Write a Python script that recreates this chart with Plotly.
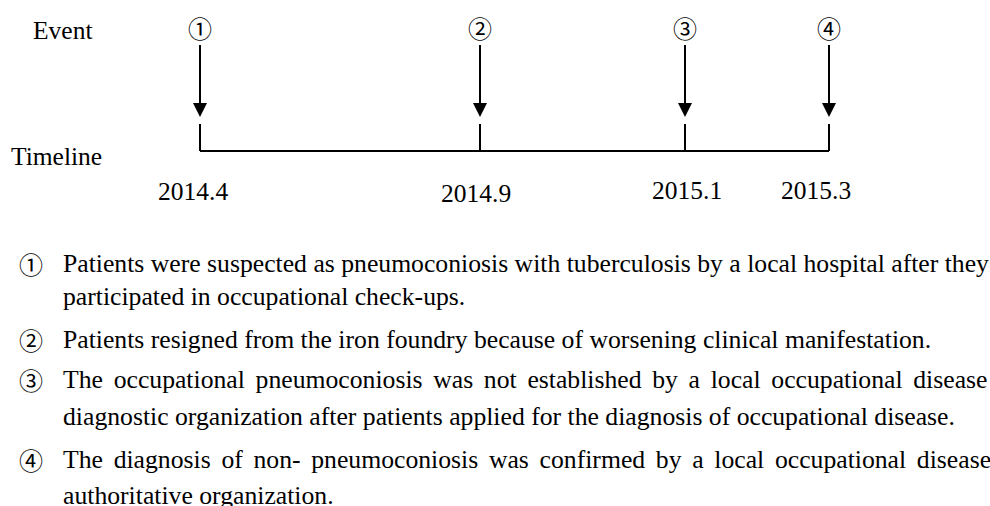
import plotly.graph_objects as go

# ---------------- data ----------------
event_marks = ["①", "②", "③", "④"]
event_dates = ["2014.4", "2014.9", "2015.1", "2015.3"]
row_labels = ["Event", "Timeline"]
descriptions = [
    ["Patients were suspected as pneumoconiosis with tuberculosis by a local hospital after they",
     "participated in occupational check-ups."],
    ["Patients resigned from the iron foundry because of worsening clinical manifestation."],
    ["The occupational pneumoconiosis was not established by a local occupational disease",
     "diagnostic organization after patients applied for the diagnosis of occupational disease."],
    ["The diagnosis of non- pneumoconiosis was confirmed by a local occupational disease",
     "authoritative organization."],
]

# ---------------- layout (pixel geometry) ----------------
W, H = 990, 506
event_x = [200, 480, 685, 829]
date_x = [193, 476, 687, 816]
date_y = [191, 193, 190, 190]
mark_y = 27
arrow_top, arrow_tip = 45, 117
stub_top, line_y = 124, 151
desc_mark_x, desc_text_x = 31, 61
line_ys = [[263, 296], [339], [379, 416], [459, 495]]
# lines that are stretched to the full width (justified paragraph lines)
justify = [[True, False], [False], [True, False], [True, False]]

SERIF = "Liberation Serif"
MARKF = "Noto Sans CJK SC"
BLACK = "black"
BODY = 25.7


def justified(t):
    # widen word gaps (six-per-em space added to each gap)
    return t.replace(" ", " \u2006")


fig = go.Figure()

# arrows (shafts)
xs, ys = [], []
for x in event_x:
    xs += [x, x, None]
    ys += [arrow_top, arrow_tip - 10, None]
fig.add_trace(go.Scatter(x=xs, y=ys, mode="lines", line=dict(color=BLACK, width=2),
                         hoverinfo="skip", showlegend=False))
# arrow heads (tip at marker position)
fig.add_trace(go.Scatter(x=event_x, y=[arrow_tip] * len(event_x), mode="markers",
                         marker=dict(symbol="arrow-down", size=14, color=BLACK,
                                     line=dict(width=0)),
                         hoverinfo="skip", showlegend=False))
# timeline stubs + baseline
xs, ys = [], []
for x in event_x:
    xs += [x, x, None]
    ys += [stub_top, line_y, None]
xs += [event_x[0], event_x[-1]]
ys += [line_y, line_y]
fig.add_trace(go.Scatter(x=xs, y=ys, mode="lines", line=dict(color=BLACK, width=2),
                         hoverinfo="skip", showlegend=False))

ann = []
ann.append(dict(x=62, y=30, text=row_labels[0], font=dict(family=SERIF, size=25.5, color=BLACK),
                xanchor="center", yanchor="middle"))
ann.append(dict(x=56, y=156, text=row_labels[1], font=dict(family=SERIF, size=25.5, color=BLACK),
                xanchor="center", yanchor="middle"))
for x, m in zip(event_x, event_marks):
    ann.append(dict(x=x, y=mark_y, text=m, font=dict(family=MARKF, size=24, color=BLACK),
                    xanchor="center", yanchor="middle"))
for x, y, d in zip(date_x, date_y, event_dates):
    ann.append(dict(x=x, y=y, text=d, font=dict(family=SERIF, size=25.5, color=BLACK),
                    xanchor="center", yanchor="middle"))
for m, lines, ys_, js in zip(event_marks, descriptions, line_ys, justify):
    ann.append(dict(x=desc_mark_x, y=ys_[0], text=m, font=dict(family=MARKF, size=24, color=BLACK),
                    xanchor="center", yanchor="middle"))
    for t, y, j in zip(lines, ys_, js):
        ann.append(dict(x=desc_text_x, y=y, text=justified(t) if j and not t.startswith("Patients were") else t,
                        font=dict(family=SERIF, size=BODY, color=BLACK),
                        xanchor="left", yanchor="middle"))
for a in ann:
    a.update(xref="x", yref="y", showarrow=False)

fig.update_layout(
    width=W, height=H, margin=dict(l=0, r=0, t=0, b=0),
    paper_bgcolor="white", plot_bgcolor="white",
    xaxis=dict(range=[0, W], visible=False, fixedrange=True),
    yaxis=dict(range=[H, 0], visible=False, fixedrange=True),
    annotations=ann, showlegend=False,
)
fig.write_html("out.html", config={"displayModeBar": False},
               post_script="document.body.style.margin='0';document.body.style.overflow='hidden';")
